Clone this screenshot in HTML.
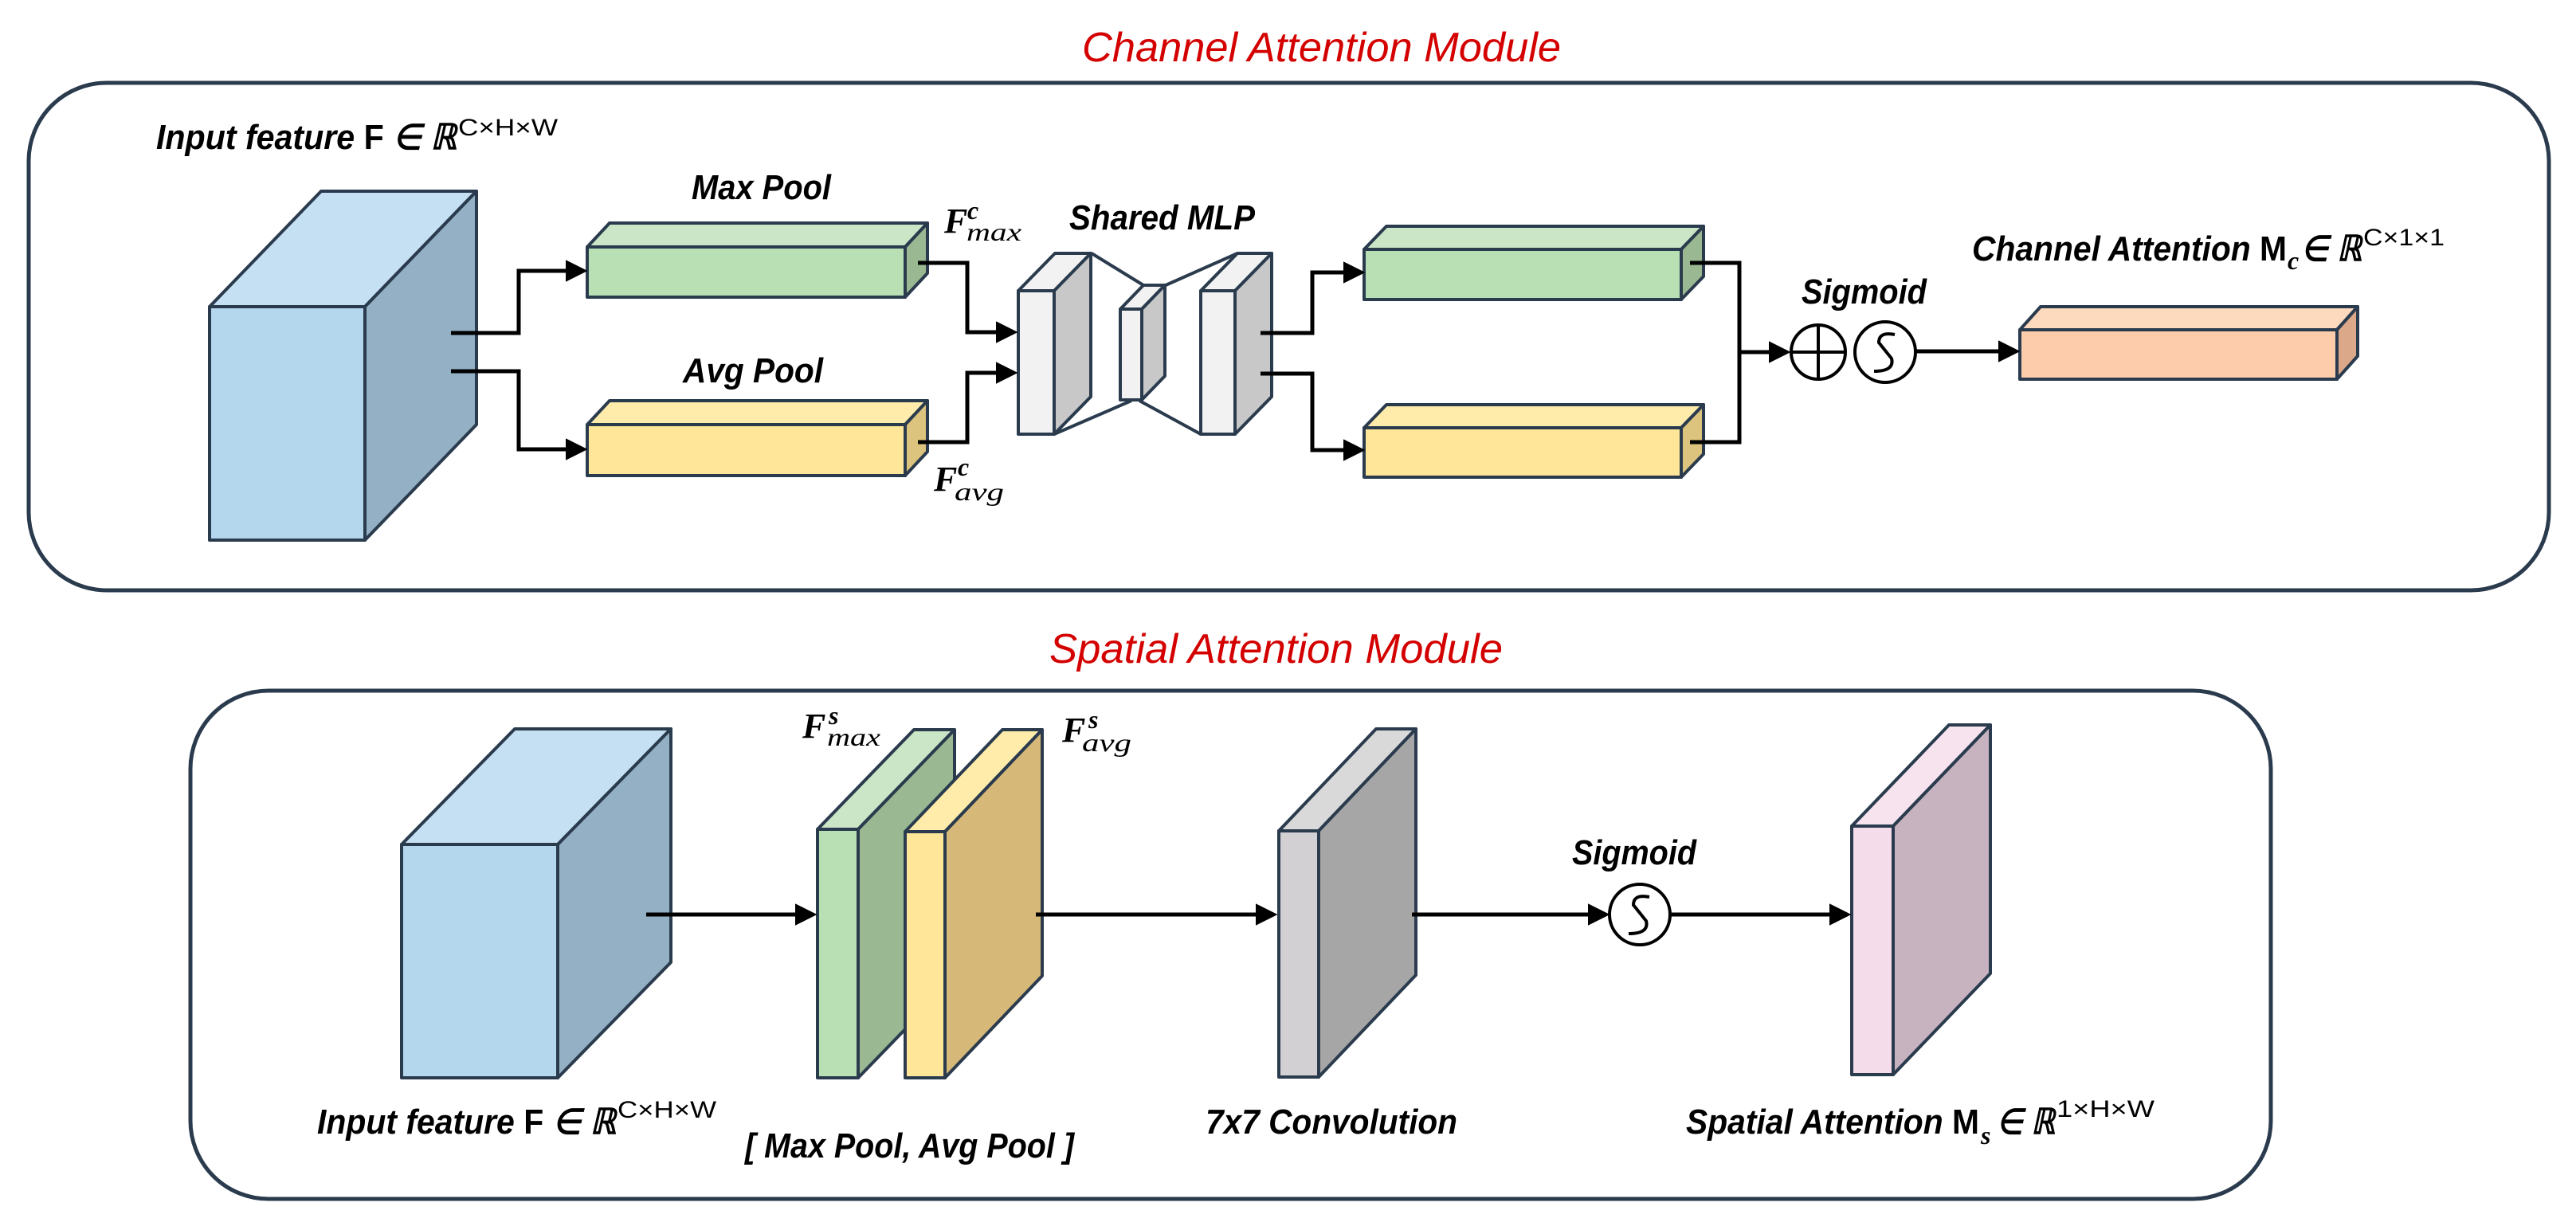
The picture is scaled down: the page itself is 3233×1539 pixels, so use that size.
<!DOCTYPE html>
<html><head><meta charset="utf-8"><style>
html,body{margin:0;padding:0;background:#fff;}
svg{display:block;}
text{font-family:"Liberation Sans",sans-serif;font-style:italic;fill:#000;}
.t{font-size:52px;fill:#d40000;}
.l{font-size:44px;font-weight:bold;}
.s{font-size:30px;font-style:normal;}
.F{font-family:"Liberation Serif",serif;font-weight:bold;font-size:44px;}
.sub{font-family:"Liberation Serif",serif;font-size:32px;}
</style></head><body>
<svg width="3233" height="1539" viewBox="0 0 3233 1539" xmlns="http://www.w3.org/2000/svg">
<defs>
<marker id="ah" viewBox="0 0 10 10" refX="0" refY="5" markerWidth="5.5" markerHeight="5.5" orient="auto" markerUnits="strokeWidth"><path d="M0,0 L10,5 L0,10 z" fill="#000"/></marker>
</defs>
<rect x="36" y="104" width="3163" height="637" rx="98" ry="98" fill="none" stroke="#2b3b4e" stroke-width="5"/>
<rect x="239" y="867" width="2611" height="638" rx="98" ry="98" fill="none" stroke="#2b3b4e" stroke-width="5"/>

<text class="t" x="1358" y="77" textLength="601" lengthAdjust="spacingAndGlyphs">Channel Attention Module</text>
<text class="t" x="1317" y="832" textLength="569" lengthAdjust="spacingAndGlyphs">Spatial Attention Module</text>

<g stroke="#2b3b4e" stroke-width="4" stroke-linejoin="round">
<polygon points="263,385 403,240 598,240 458,385" fill="#c5e0f3"/>
<polygon points="458,385 598,240 598,533 458,678" fill="#93b0c4"/>
<rect x="263" y="385" width="195" height="293" fill="#b4d7ee"/>
<polygon points="737,310 765,280 1164,280 1136,310" fill="#cae6c6"/>
<polygon points="1136,310 1164,280 1164,343 1136,373" fill="#9ab892"/>
<rect x="737" y="310" width="399" height="63" fill="#b9e0b5"/>
<polygon points="737,533 765,503 1164,503 1136,533" fill="#ffecaa"/>
<polygon points="1136,533 1164,503 1164,567 1136,597" fill="#dcc37e"/>
<rect x="737" y="533" width="399" height="64" fill="#ffe699"/>
<line x1="1370" y1="318" x2="1435" y2="358"/>
<line x1="1463" y1="358" x2="1553" y2="318"/>
<line x1="1323" y1="545" x2="1420" y2="503"/>
<line x1="1430" y1="503" x2="1507" y2="545"/>
<polygon points="1278,365 1324,318 1369,318 1323,365" fill="#f2f2f2"/>
<polygon points="1323,365 1369,318 1369,498 1323,545" fill="#c8c8c8"/>
<rect x="1278" y="365" width="45" height="180" fill="#f2f2f2"/>
<polygon points="1406,388 1435,358 1462,358 1433,388" fill="#f2f2f2"/>
<polygon points="1433,388 1462,358 1462,472 1433,502" fill="#c8c8c8"/>
<rect x="1406" y="388" width="27" height="114" fill="#f2f2f2"/>
<polygon points="1507,365 1553,318 1596,318 1550,365" fill="#f2f2f2"/>
<polygon points="1550,365 1596,318 1596,498 1550,545" fill="#c8c8c8"/>
<rect x="1507" y="365" width="43" height="180" fill="#f2f2f2"/>
<polygon points="1712,313 1740,284 2138,284 2110,313" fill="#cae6c6"/>
<polygon points="2110,313 2138,284 2138,347 2110,376" fill="#9ab892"/>
<rect x="1712" y="313" width="398" height="63" fill="#b9e0b5"/>
<polygon points="1712,537 1740,508 2138,508 2110,537" fill="#ffecaa"/>
<polygon points="2110,537 2138,508 2138,570 2110,599" fill="#dcc37e"/>
<rect x="1712" y="537" width="398" height="62" fill="#ffe699"/>
<polygon points="2535,414 2561,385 2959,385 2933,414" fill="#fdd9bd"/>
<polygon points="2933,414 2959,385 2959,447 2933,476" fill="#dba88a"/>
<rect x="2535" y="414" width="398" height="62" fill="#fdccab"/>

<polygon points="504,1060 646,915 842,915 700,1060" fill="#c5e0f3"/>
<polygon points="700,1060 842,915 842,1208 700,1353" fill="#93b0c4"/>
<rect x="504" y="1060" width="196" height="293" fill="#b4d7ee"/>
<polygon points="1026,1041 1147,916 1198,916 1077,1041" fill="#cae6c6"/>
<polygon points="1077,1041 1198,916 1198,1228 1077,1353" fill="#9ab892"/>
<rect x="1026" y="1041" width="51" height="312" fill="#b9e0b5"/>
<polygon points="1136,1044 1258,916 1308,916 1186,1044" fill="#ffecaa"/>
<polygon points="1186,1044 1308,916 1308,1225 1186,1353" fill="#d6b878"/>
<rect x="1136" y="1044" width="50" height="309" fill="#ffe699"/>
<polygon points="1605,1043 1727,915 1777,915 1655,1043" fill="#d9d9d9"/>
<polygon points="1655,1043 1777,915 1777,1224 1655,1352" fill="#a6a6a6"/>
<rect x="1605" y="1043" width="50" height="309" fill="#d3d0d3"/>
<polygon points="2324,1037 2446,910 2498,910 2376,1037" fill="#f6e3ee"/>
<polygon points="2376,1037 2498,910 2498,1222 2376,1349" fill="#c7b3c0"/>
<rect x="2324" y="1037" width="52" height="312" fill="#f4dcea"/>
</g>

<g fill="none" stroke="#000" stroke-width="5">
<path d="M566,418 H651 V340 H710" marker-end="url(#ah)"/>
<path d="M566,466 H651 V564 H710" marker-end="url(#ah)"/>
<path d="M1152,330 H1214 V417 H1250" marker-end="url(#ah)"/>
<path d="M1152,555 H1214 V468 H1250" marker-end="url(#ah)"/>
<path d="M1582,418 H1647 V342 H1686" marker-end="url(#ah)"/>
<path d="M1582,469 H1647 V565 H1686" marker-end="url(#ah)"/>
<path d="M2121,330 H2183 V555 H2121"/>
<path d="M2183,442 H2220" marker-end="url(#ah)"/>
<path d="M2404,441 H2508" marker-end="url(#ah)"/>
<path d="M811,1148 H998" marker-end="url(#ah)"/>
<path d="M1300,1148 H1576" marker-end="url(#ah)"/>
<path d="M1772,1148 H1993" marker-end="url(#ah)"/>
<path d="M2096,1148 H2296" marker-end="url(#ah)"/>
</g>
<g fill="#fff" stroke="#000" stroke-width="4">
<circle cx="2282" cy="442" r="34"/>
<circle cx="2366" cy="442" r="38"/>
<circle cx="2058" cy="1148" r="38"/>
</g>
<g fill="none" stroke="#000" stroke-width="4">
<path d="M2282,408 V476 M2248,442 H2316"/>
<path d="M2378,420 Q2358,416 2358,430 L2374,450 Q2378,466 2352,466"/>
<path d="M2070,1126 Q2050,1122 2050,1136 L2066,1156 Q2070,1172 2044,1172"/>
</g>

<text class="l" x="196" y="187" textLength="377" lengthAdjust="spacingAndGlyphs">Input feature <tspan font-style="normal">F</tspan> ∈ ℝ</text>
<text class="s" x="575" y="170" textLength="125" lengthAdjust="spacingAndGlyphs">C×H×W</text>
<text class="l" x="868" y="250" textLength="175" lengthAdjust="spacingAndGlyphs">Max Pool</text>
<text class="l" x="857" y="480" textLength="176" lengthAdjust="spacingAndGlyphs">Avg Pool</text>
<text class="F" x="1185" y="292">F</text>
<text class="sub" x="1214" y="275" font-weight="bold">c</text>
<text class="sub" x="1213" y="302" textLength="69" lengthAdjust="spacingAndGlyphs">max</text>
<text class="F" x="1172" y="616">F</text>
<text class="sub" x="1202" y="597" font-weight="bold">c</text>
<text class="sub" x="1198" y="628" textLength="62" lengthAdjust="spacingAndGlyphs">avg</text>
<text class="l" x="1342" y="288" textLength="233" lengthAdjust="spacingAndGlyphs">Shared MLP</text>
<text class="l" x="2261" y="381" textLength="157" lengthAdjust="spacingAndGlyphs">Sigmoid</text>
<text class="l" x="2475" y="327" textLength="395" lengthAdjust="spacingAndGlyphs">Channel Attention <tspan font-style="normal">M</tspan></text>
<text class="sub" x="2871" y="338" font-weight="bold">c</text>
<text class="l" x="2888" y="327" textLength="76" lengthAdjust="spacingAndGlyphs">∈ ℝ</text>
<text class="s" x="2966" y="308" textLength="102" lengthAdjust="spacingAndGlyphs">C×1×1</text>

<text class="F" x="1007" y="926">F</text>
<text class="sub" x="1040" y="909" font-weight="bold">s</text>
<text class="sub" x="1038" y="936" textLength="67" lengthAdjust="spacingAndGlyphs">max</text>
<text class="F" x="1333" y="931">F</text>
<text class="sub" x="1366" y="914" font-weight="bold">s</text>
<text class="sub" x="1358" y="943" textLength="62" lengthAdjust="spacingAndGlyphs">avg</text>
<text class="l" x="1973" y="1085" textLength="156" lengthAdjust="spacingAndGlyphs">Sigmoid</text>
<text class="l" x="398" y="1423" textLength="375" lengthAdjust="spacingAndGlyphs">Input feature <tspan font-style="normal">F</tspan> ∈ ℝ</text>
<text class="s" x="775" y="1403" textLength="124" lengthAdjust="spacingAndGlyphs">C×H×W</text>
<text class="l" x="935" y="1453" textLength="413" lengthAdjust="spacingAndGlyphs">[ Max Pool, Avg Pool ]</text>
<text class="l" x="1513" y="1423" textLength="316" lengthAdjust="spacingAndGlyphs">7x7 Convolution</text>
<text class="l" x="2116" y="1423" textLength="368" lengthAdjust="spacingAndGlyphs">Spatial Attention <tspan font-style="normal">M</tspan></text>
<text class="sub" x="2486" y="1436" font-weight="bold">s</text>
<text class="l" x="2506" y="1423" textLength="73" lengthAdjust="spacingAndGlyphs">∈ ℝ</text>
<text class="s" x="2581" y="1402" textLength="123" lengthAdjust="spacingAndGlyphs">1×H×W</text>
</svg>
</body></html>
